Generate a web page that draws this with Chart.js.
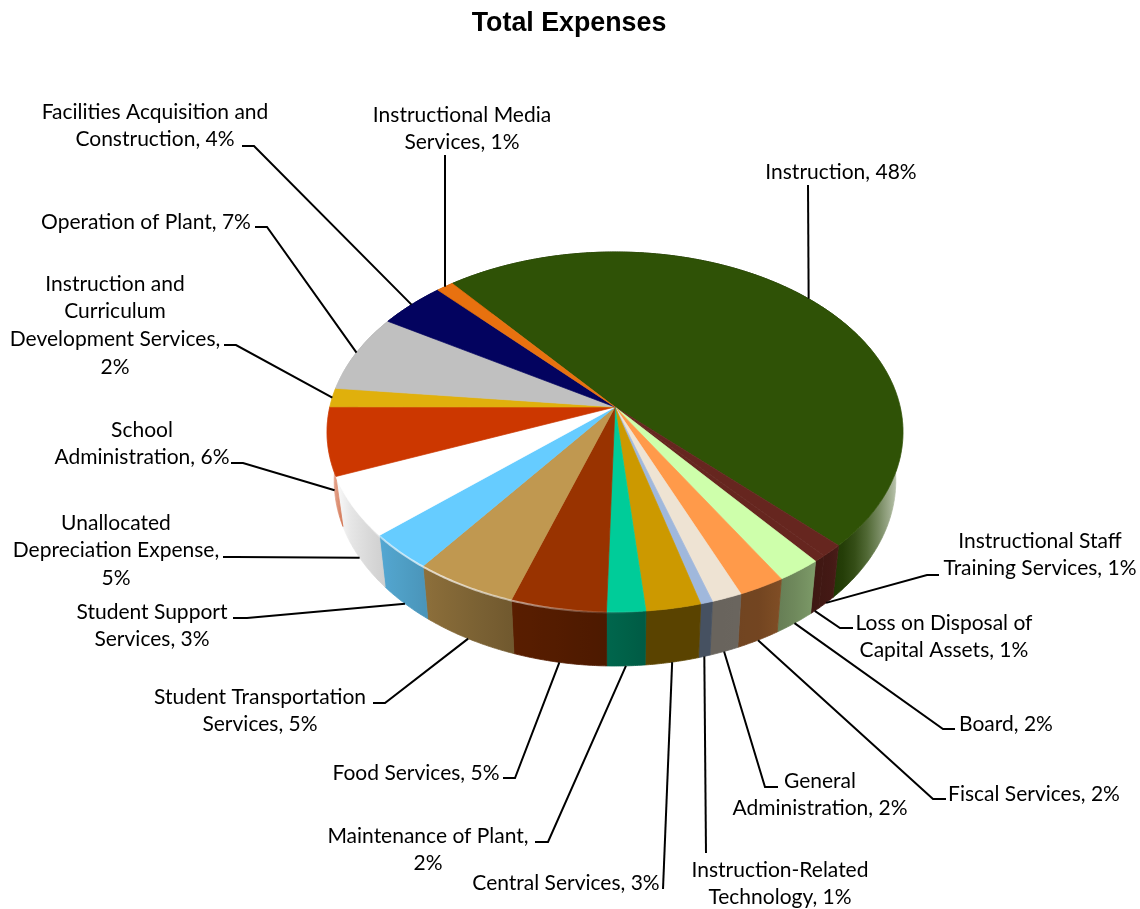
<!DOCTYPE html>
<html><head><meta charset="utf-8">
<style>html,body{margin:0;padding:0;background:#fff}#w{width:1140px;height:909px}</style>
<script src="https://cdn.jsdelivr.net/npm/chart.js@4/dist/chart.umd.min.js"></script>
</head><body><div id="w"><canvas id="c" width="1140" height="909"></canvas></div>
<script>
const chartTitle = 'Total Expenses';
const categories = ['Instruction','Instructional Staff Training Services','Loss on Disposal of Capital Assets','Board','Fiscal Services','General Administration','Instruction-Related Technology','Central Services','Maintenance of Plant','Food Services','Student Transportation Services','Student Support Services','Unallocated Depreciation Expense','School Administration','Instruction and Curriculum Development Services','Operation of Plant','Facilities Acquisition and Construction','Instructional Media Services'];
const values = [48.4,1.1,0.6,2.2,2.3,1.5,0.6,2.7,1.9,4.7,5.1,3.3,5.4,6.1,1.7,7.0,4.3,1.1];
const colors = ['#2f5206','#66261f','#66261f','#ceffab','#ff9a4a','#eee3d3','#a0b8dc','#cc9900','#00cc99','#993300','#c09850','#66ccff','#ffffff','#cc3700','#e0b00c','#c0c0c0','#03035f','#e8710f'];
const labelLines = [
 ['Instruction, 48%'],['Instructional Staff','Training Services, 1%'],['Loss on Disposal of','Capital Assets, 1%'],['Board, 2%'],['Fiscal Services, 2%'],['General','Administration, 2%'],['Instruction-Related','Technology, 1%'],['Central Services, 3%'],['Maintenance of Plant,','2%'],['Food Services, 5%'],['Student Transportation','Services, 5%'],['Student Support','Services, 3%'],['Unallocated','Depreciation Expense,','5%'],['School','Administration, 6%'],['Instruction and','Curriculum','Development Services,','2%'],['Operation of Plant, 7%'],['Facilities Acquisition and','Construction, 4%'],['Instructional Media','Services, 1%']];
// layout: text centre x, first-line y; leader start, elbow; rim level the leader lands on
const labelX = [841,1040,944,1006,1034,820,780,566,428,416,260,152,116,142,115,146,155,462];
const labelY = [172,541,623,724,794,781,870,883,836,773,697,612,523,430,284,222,112,115];
const leaderPts = [[808,185,808,185],[939,575,927,575],[853,628,840,628],[955,729,943,729],[946,799,933,799],[778,787,765,787],[706,853,706,853],[663,889,663,889],[535,842,548,842],[503,778,515,778],[373,703,385,703],[233,618,247,618],[223,557,235,557],[231,463,243,463],[224,345,236,345],[255,227,267,227],[242,146,254,146],[445,155,445,155]];
const leaderLevel = [0,1,1,1,1,1,1,1,1,1,1,1,1,1,0,0,0,0];

const SQ = 180/288, T = 0.139, S = Math.sqrt(1-T*T), DEG = Math.PI/180;
const rgb = h => [1,3,5].map(i=>parseInt(h.substr(i,2),16));
const shadeB = [[327,0],[345,.08],[380,.18],[430,.28],[515,.42],[609,.5],[650,.56],[715,.56],[760,.55],[800,.45],[825,.35],[840,.3],[870,.15],[903,.1]];
const shadeW = [[327,.7],[338,.5],[346,0],[840,0],[860,.1],[875,.3],[890,.55],[903,.8]];
const glow = [[327,0],[370,.1],[385,.6],[440,.7],[520,.5],[600,.12],[650,0],[903,0]];
const lerp=(tb,x)=>{for(let i=1;i<tb.length;i++){if(x<=tb[i][0]){const[a,b]=tb[i-1],[c,d]=tb[i];return b+(d-b)*(x-a)/(c-a);}}return tb[tb.length-1][1];};

function proj(arc,a,level){
  const u=Math.cos(a),v=-Math.sin(a),d=1+T*v,R=arc.outerRadius;
  let dx=R*u*S/d, dy=-R*SQ*(v+T)/d;
  if(level){dx*=0.975;dy=48.6+dy*1.03;}
  return [arc.x+dx,arc.y+dy];
}
function rim(arc,a0,a1,level){const n=Math.max(2,Math.ceil((a1-a0)/(0.4*DEG))),o=[];for(let i=0;i<=n;i++)o.push(proj(arc,a0+(a1-a0)*i/n,level));return o;}
function poly(ctx,p){ctx.beginPath();p.forEach((q,i)=>i?ctx.lineTo(q[0],q[1]):ctx.moveTo(q[0],q[1]));ctx.closePath();}

const pie3d = {
  id:'pie3d',
  afterLayout(chart){ if(chart.titleBlock){chart.titleBlock.left=0;chart.titleBlock.right=1138;} },
  beforeDatasetsDraw(chart){
    const ctx=chart.ctx, arcs=chart.getDatasetMeta(0).data;
    ctx.save();
    arcs.forEach((arc,i)=>{
      const c=rgb(colors[i]), g=ctx.createLinearGradient(327,0,903,0);
      for(let x=327;x<=903;x+=12){
        const b=lerp(shadeB,x),w=lerp(shadeW,x);
        const m=c.map(k=>Math.round(k*(1-b)*(1-w)+255*w));
        g.addColorStop((x-327)/576,`rgb(${m})`);
      }
      const top=rim(arc,arc.startAngle,arc.endAngle,0), bot=rim(arc,arc.startAngle,arc.endAngle,1).reverse();
      poly(ctx,top.concat(bot)); ctx.fillStyle=g; ctx.strokeStyle=g; ctx.lineWidth=.8; ctx.fill(); ctx.stroke();
    });
    arcs.forEach((arc,i)=>{
      const ap=[arc.x,arc.y-arc.outerRadius*SQ*T];
      poly(ctx,[ap].concat(rim(arc,arc.startAngle,arc.endAngle,0)));
      ctx.fillStyle=colors[i]; ctx.fill();
      ctx.strokeStyle=colors[i]; ctx.lineWidth=.7; ctx.stroke();
    });
    // rim highlight along the front-left edge
    arcs.forEach((arc)=>{
      const g=ctx.createLinearGradient(327,0,903,0);
      glow.forEach(([x,al])=>g.addColorStop((x-327)/576,`rgba(255,255,255,${al})`));
      const r=rim(arc,arc.startAngle,arc.endAngle,0).filter(q=>q[1]>arc.y);
      if(r.length<2) return;
      ctx.beginPath();r.forEach((q,i)=>i?ctx.lineTo(q[0],q[1]+.5):ctx.moveTo(q[0],q[1]+.5));
      ctx.strokeStyle=g;ctx.lineWidth=2;ctx.stroke();
    });
    // leaders and labels
    ctx.strokeStyle='#000';ctx.lineWidth=2;ctx.lineJoin='miter';
    arcs.forEach((arc,i)=>{
      const e=proj(arc,(arc.startAngle+arc.endAngle)/2,leaderLevel[i]),l=leaderPts[i];
      ctx.beginPath();ctx.moveTo(l[0],l[1]);ctx.lineTo(l[2],l[3]);ctx.lineTo(e[0],e[1]);ctx.stroke();
    });
    ctx.fillStyle='#000';ctx.font='21px Lato';ctx.textAlign='center';ctx.textBaseline='middle';
    labelLines.forEach((ls,i)=>ls.forEach((s,j)=>ctx.fillText(s,labelX[i],labelY[i]+j*27.6)));
    ctx.restore();
    return false;
  }
};

new Chart(document.getElementById('c'),{
  type:'pie',
  data:{labels:categories,datasets:[{data:values,backgroundColor:colors,borderWidth:0}]},
  options:{
    responsive:false,animation:false,rotation:-39.2,
    layout:{padding:{left:327,right:237,top:0,bottom:84.8}},
    plugins:{legend:{display:false},tooltip:{enabled:false},
      title:{display:true,text:chartTitle,color:'#000',font:{family:'"Liberation Sans"',size:26.8,weight:'bold',lineHeight:1.187},padding:{top:8,bottom:0}}}
  },
  plugins:[pie3d]
});
</script></body></html>
